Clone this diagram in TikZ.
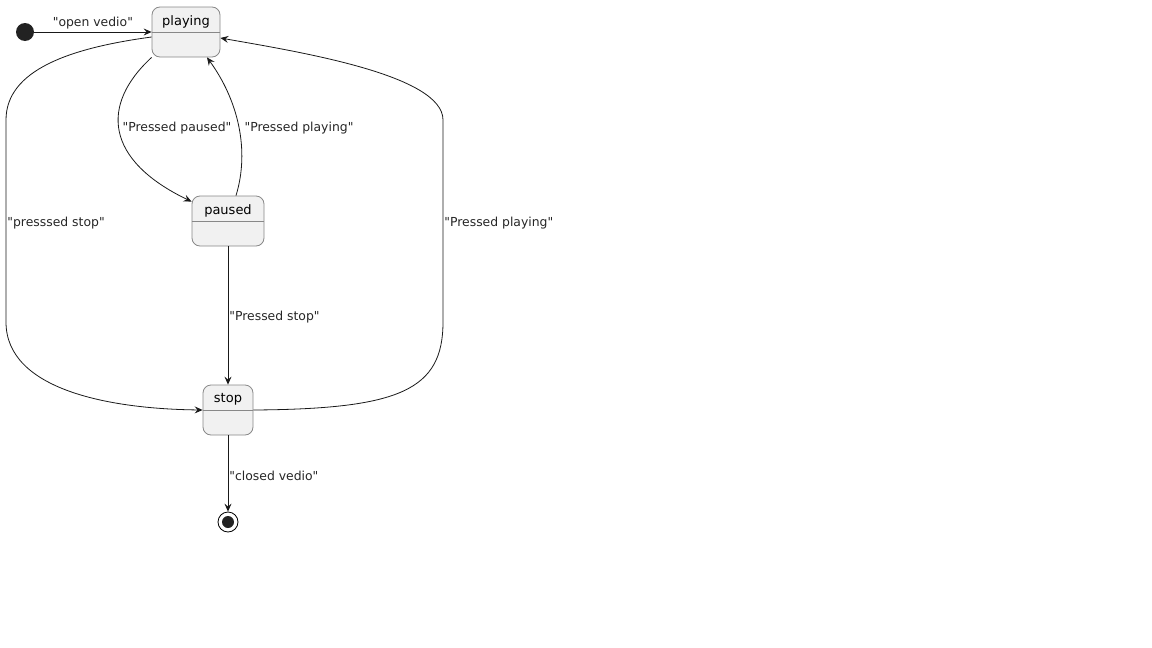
\documentclass[tikz,border=0pt]{standalone}
\usepackage{fontspec}
\setmainfont{DejaVu Sans}[Ligatures=TeXOff]
\usetikzlibrary{arrows.meta,positioning,calc}
\definecolor{boxfill}{HTML}{F1F1F1}
\definecolor{boxline}{HTML}{888888}
\definecolor{dot}{HTML}{222222}

\begin{document}
\begin{tikzpicture}
    [x=1pt,y=-1pt,>={Stealth[length=8pt,width=7pt,inset=3pt]},
     state/.style={draw=boxline,fill=boxfill,rounded corners=8pt,minimum height=50pt,line width=0.8pt},
     statename/.style={font=\fontsize{13}{15}\selectfont,inner sep=0pt},
     trans/.style={font=\fontsize{12.4}{14}\selectfont,inner sep=1pt,text=black!85,yshift=-2pt},
     conn/.style={draw=black!90,line width=0.8pt,->}]

    \useasboundingbox (0,0) rectangle (1152,648);

    \node[circle,fill=dot,minimum size=18pt,inner sep=0pt] (init) at (25,32) {};
    \node[state,minimum width=68pt] (playing) at (186,32) {};
    \node[state,minimum width=72pt] (paused) at (228,221) {};
    \node[state,minimum width=50pt] (stop) at (228,410) {};
    \node[circle,draw,minimum size=20pt,inner sep=0pt,line width=0.8pt] (final) at (228,522) {};
    \fill[dot] (final) circle (6pt);

    \draw[boxline,line width=0.8pt] (playing.west) -- (playing.east);
    \draw[boxline,line width=0.8pt] (paused.west) -- (paused.east);
    \draw[boxline,line width=0.8pt] (stop.west) -- (stop.east);

    \node[statename] (playing-name) at ($(playing.north)+(0,15)$) {playing};
    \node[statename] (paused-name) at ($(paused.north)+(0,15)$) {paused};
    \node[statename] (stop-name) at ($(stop.north)+(0,15)$) {stop};

    \draw[conn] (init) -- (playing) node[trans,midway,above=4pt] (l-open) {"open vedio"};
    \draw[conn] ([yshift=-5pt]playing.west) .. controls (70,48) and (6,70) .. (6,120)
        -- (6,322) node[trans,midway,right] (l-stop1) {"presssed stop"}
        .. controls (6,390) and (110,409) .. (stop.west);
    \draw[conn] (playing.south west) .. controls (100,105) and (105,160) .. ([yshift=-6pt]paused.north west);
    \node[trans] (l-paused) at (177,126) {"Pressed paused"};
    \draw[conn] ([xshift=8pt]paused.north) .. controls (250,150) and (238,100) .. ([xshift=21pt]playing.south);
    \node[trans] (l-play1) at (299,126) {"Pressed playing"};
    \draw[conn] (paused) -- (stop) node[trans,midway,right] (l-stop2) {"Pressed stop"};
    \draw[conn] (stop.east) .. controls (400,409) and (443,390) .. (443,322)
        -- (443,120) node[trans,midway,right] (l-play2) {"Pressed playing"}
        .. controls (443,75) and (300,52) .. ([yshift=-6pt]playing.east);
    \draw[conn] (stop) -- (final) node[trans,midway,right] (l-close) {"closed vedio"};

\end{tikzpicture}
\end{document}
